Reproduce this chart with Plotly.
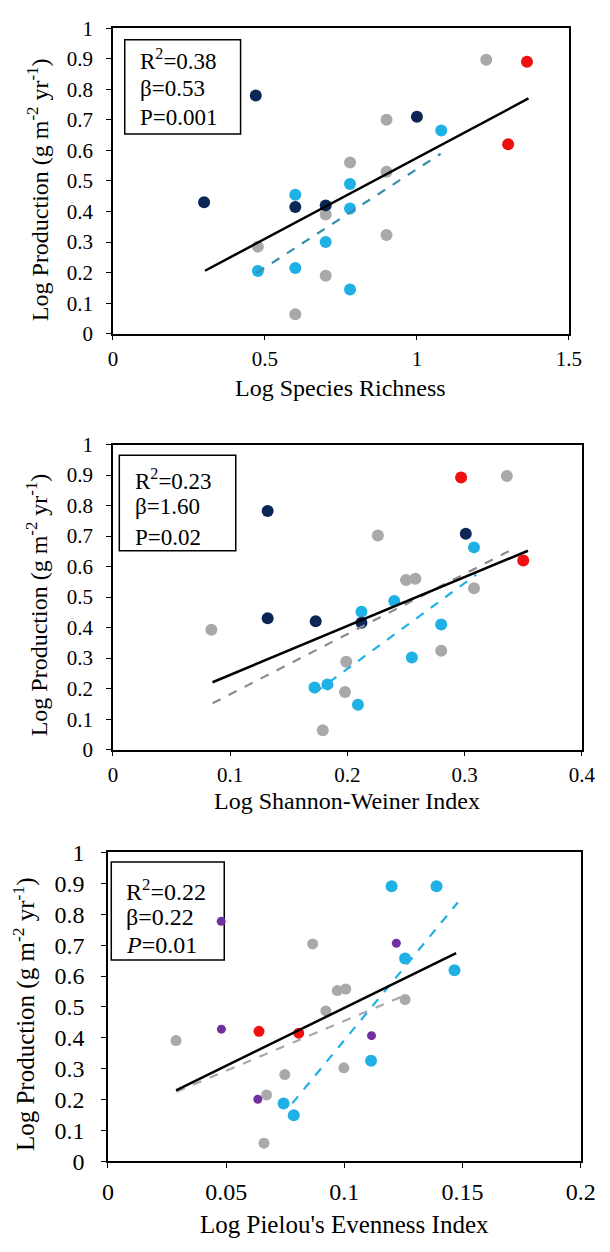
import plotly.graph_objects as go

W, H = 610, 1252
FONT = "Liberation Serif"

NAVY = "#0c2656"
SKY = "#1fb0e6"
GREY = "#a9a9a9"
RED = "#f01010"
PURPLE = "#7030a0"

# ---- Panel 1: log species richness ----
rich_navy_x = [0.30, 0.47, 0.60, 0.70, 1.00]
rich_navy_y = [0.43, 0.78, 0.415, 0.42, 0.71]
rich_sky_x = [0.477, 0.60, 0.60, 0.70, 0.78, 0.78, 0.78, 1.08]
rich_sky_y = [0.205, 0.455, 0.215, 0.30, 0.49, 0.41, 0.145, 0.665]
rich_grey_x = [0.477, 0.60, 0.70, 0.70, 0.78, 0.90, 0.90, 0.90, 1.228]
rich_grey_y = [0.285, 0.064, 0.39, 0.19, 0.56, 0.70, 0.53, 0.323, 0.897]
rich_red_x = [1.362, 1.30]
rich_red_y = [0.89, 0.62]
rich_fit_x = [0.303, 1.367]
rich_fit_y = [0.206, 0.770]
rich_sky_fit_x = [0.473, 1.078]
rich_sky_fit_y = [0.199, 0.589]
rich_stats = ["R<sup>2</sup>=0.38", "β=0.53", "P=0.001"]

# ---- Panel 2: log Shannon-Weiner index ----
shan_navy_x = [0.132, 0.132, 0.173, 0.212, 0.301]
shan_navy_y = [0.782, 0.431, 0.421, 0.416, 0.708]
shan_sky_x = [0.172, 0.183, 0.212, 0.209, 0.240, 0.255, 0.280, 0.308]
shan_sky_y = [0.204, 0.214, 0.452, 0.147, 0.487, 0.302, 0.410, 0.663]
shan_grey_x = [0.084, 0.179, 0.199, 0.198, 0.226, 0.250, 0.258, 0.280, 0.308, 0.336]
shan_grey_y = [0.393, 0.064, 0.288, 0.189, 0.702, 0.556, 0.560, 0.324, 0.529, 0.897]
shan_red_x = [0.297, 0.350]
shan_red_y = [0.892, 0.620]
shan_fit_x = [0.085, 0.354]
shan_fit_y = [0.221, 0.652]
shan_grey_fit_x = [0.085, 0.341]
shan_grey_fit_y = [0.152, 0.657]
shan_sky_fit_x = [0.172, 0.310]
shan_sky_fit_y = [0.186, 0.574]
shan_stats = ["R<sup>2</sup>=0.23", "β=1.60", "P=0.02"]

# ---- Panel 3: log Pielou's evenness index ----
piel_purple_x = [0.0479, 0.048, 0.0634, 0.122, 0.1115]
piel_purple_y = [0.777, 0.428, 0.201, 0.706, 0.407]
piel_red_x = [0.0639, 0.0807]
piel_red_y = [0.421, 0.415]
piel_sky_x = [0.120, 0.139, 0.1257, 0.1466, 0.1113, 0.0743, 0.0786]
piel_sky_y = [0.891, 0.891, 0.657, 0.619, 0.326, 0.187, 0.149]
piel_grey_x = [0.0288, 0.0866, 0.097, 0.1006, 0.0922, 0.1257, 0.0748, 0.0998, 0.0671, 0.066]
piel_grey_y = [0.391, 0.704, 0.553, 0.558, 0.487, 0.524, 0.281, 0.303, 0.215, 0.059]
piel_fit_x = [0.0288, 0.1473]
piel_fit_y = [0.230, 0.674]
piel_grey_fit_x = [0.029, 0.126]
piel_grey_fit_y = [0.225, 0.539]
piel_sky_fit_x = [0.078, 0.148]
piel_sky_fit_y = [0.188, 0.838]
piel_stats = ["R<sup>2</sup>=0.22", "β=0.22", "<i>P</i>=0.01"]

Y_TITLE = "Log Production (g m<sup>-2</sup> yr<sup>-1</sup>)"

# plot-area boxes in pixels: (left, right, top, bottom)
panels = [
    dict(px=(110.7, 583.0, 15.5, 327.5), xr=[0, 1.5], dx=0.5,
         xtitle="Log Species Richness", ytitle_x=33, ytitle_y=180, xlab_y=383,
         tick_fs=21, title_fs=24, xstand=0, ystand=9,
         box=(0.026, 0.280, 0.654, 0.962), text_x=0.056,
         text_y=[0.897, 0.804, 0.708], stats=rich_stats, fs=23),
    dict(px=(110.7, 596.4, 440.7, 752.3), xr=[0, 0.4], dx=0.1,
         xtitle="Log Shannon-Weiner Index", ytitle_x=33, ytitle_y=604, xlab_y=805,
         tick_fs=21, title_fs=24, xstand=0, ystand=9,
         box=(0.0137, 0.262, 0.652, 0.965), text_x=0.042,
         text_y=[0.887, 0.796, 0.697], stats=shan_stats, fs=23),
    dict(px=(105.6, 595.2, 857.3, 1172.7), xr=[0, 0.2], dx=0.05,
         xtitle="Log Pielou's Evenness Index", ytitle_x=19, ytitle_y=1022, xlab_y=1237,
         tick_fs=24, title_fs=25, xstand=3, ystand=12,
         box=(0.007, 0.246, 0.652, 0.969), text_x=0.0335,
         text_y=[0.880, 0.791, 0.700], stats=piel_stats, fs=24),
]

fig = go.Figure()


def pts(x, y, color, size, k):
    suffix = "" if k == 1 else str(k)
    fig.add_trace(go.Scatter(x=x, y=y, mode="markers", xaxis="x" + suffix, yaxis="y" + suffix,
                             marker=dict(color=color, size=size, line=dict(width=0)),
                             showlegend=False, hoverinfo="skip"))


def fit(x, y, color, dash, width, k):
    suffix = "" if k == 1 else str(k)
    fig.add_trace(go.Scatter(x=x, y=y, mode="lines", xaxis="x" + suffix, yaxis="y" + suffix,
                             line=dict(color=color, dash=dash, width=width),
                             showlegend=False, hoverinfo="skip"))


# panel 1
pts(rich_grey_x, rich_grey_y, GREY, 12, 1)
pts(rich_sky_x, rich_sky_y, SKY, 12, 1)
pts(rich_navy_x, rich_navy_y, NAVY, 12, 1)
pts(rich_red_x, rich_red_y, RED, 12, 1)
fit(rich_sky_fit_x, rich_sky_fit_y, "#3a8cab", "dash", 2.2, 1)
fit(rich_fit_x, rich_fit_y, "black", "solid", 2.5, 1)

# panel 2
pts(shan_grey_x, shan_grey_y, GREY, 12, 2)
pts(shan_sky_x, shan_sky_y, SKY, 12, 2)
pts(shan_navy_x, shan_navy_y, NAVY, 12, 2)
pts(shan_red_x, shan_red_y, RED, 12, 2)
fit(shan_grey_fit_x, shan_grey_fit_y, "#8c8c8c", "dash", 2.2, 2)
fit(shan_sky_fit_x, shan_sky_fit_y, SKY, "dash", 2.2, 2)
fit(shan_fit_x, shan_fit_y, "black", "solid", 2.5, 2)

# panel 3
pts(piel_grey_x, piel_grey_y, GREY, 11, 3)
pts(piel_sky_x, piel_sky_y, SKY, 12, 3)
pts(piel_red_x, piel_red_y, RED, 11, 3)
pts(piel_purple_x, piel_purple_y, PURPLE, 9, 3)
fit(piel_grey_fit_x, piel_grey_fit_y, GREY, "dash", 2.2, 3)
fit(piel_sky_fit_x, piel_sky_fit_y, SKY, "dash", 2.2, 3)
fit(piel_fit_x, piel_fit_y, "black", "solid", 2.5, 3)

layout = dict(
    width=W, height=H, margin=dict(l=0, r=0, t=0, b=0),
    paper_bgcolor="white", plot_bgcolor="white",
    font=dict(family=FONT, color="black", size=21),
    showlegend=False,
)
annotations = []
shapes = []

for i, p in enumerate(panels, start=1):
    left, right, top, bottom = p["px"]
    xd = [left / W, right / W]
    yd = [1 - bottom / H, 1 - top / H]
    suffix = "" if i == 1 else str(i)
    axis_common = dict(showline=True, mirror=True, linecolor="black", linewidth=1.5,
                       ticks="outside", ticklen=5, tickwidth=1.2, tickcolor="black",
                       showgrid=False, zeroline=False, fixedrange=True,
                       tickfont=dict(family=FONT, size=p["tick_fs"], color="black"))
    layout["xaxis" + suffix] = dict(domain=xd, range=p["xr"], dtick=p["dx"], tick0=0,
                                    anchor="y" + suffix, ticklabelstandoff=p["xstand"],
                                    **axis_common)
    layout["yaxis" + suffix] = dict(domain=yd, range=[0, 1], dtick=0.1, tick0=0,
                                    anchor="x" + suffix, ticklabelstandoff=p["ystand"],
                                    **axis_common)

    # axis titles
    annotations.append(dict(text=p["xtitle"], xref="paper", yref="paper",
                            x=(left + right) / 2 / W, y=1 - p["xlab_y"] / H,
                            showarrow=False, xanchor="center", yanchor="middle",
                            font=dict(family=FONT, size=p["title_fs"])))
    annotations.append(dict(text=Y_TITLE, xref="paper", yref="paper", textangle=-90,
                            x=p["ytitle_x"] / W, y=1 - p["ytitle_y"] / H,
                            showarrow=False, xanchor="center", yanchor="middle",
                            font=dict(family=FONT, size=p["title_fs"])))

    # statistics box (beneath the markers)
    bx0, bx1, by0, by1 = p["box"]
    shapes.append(dict(type="rect", xref="x%s domain" % suffix, yref="y%s domain" % suffix,
                       x0=bx0, x1=bx1, y0=by0, y1=by1,
                       line=dict(color="black", width=1.5), fillcolor="white", layer="below"))
    for txt, ty in zip(p["stats"], p["text_y"]):
        annotations.append(dict(text=txt, xref="x%s domain" % suffix, yref="y%s domain" % suffix,
                                x=p["text_x"], y=ty, showarrow=False,
                                xanchor="left", yanchor="middle",
                                font=dict(family=FONT, size=p["fs"])))

layout["annotations"] = annotations
layout["shapes"] = shapes
fig.update_layout(**layout)
fig.write_html("out.html")
